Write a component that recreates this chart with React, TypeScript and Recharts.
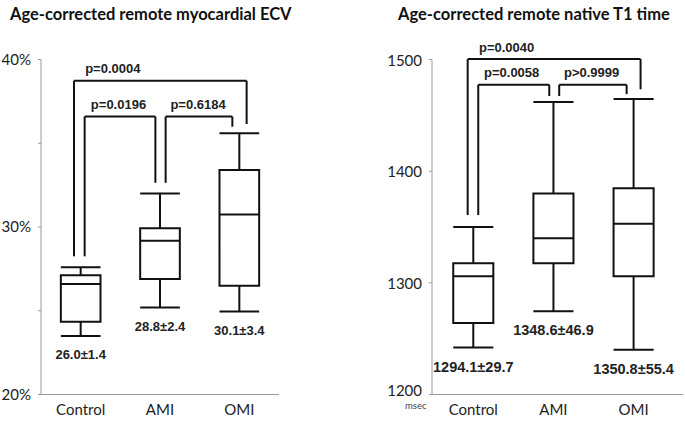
import React from 'react';
import { ComposedChart, XAxis, YAxis, ReferenceArea, ReferenceLine, ReferenceDot } from 'recharts';

const categories = ['Control', 'AMI', 'OMI'];

// Age-corrected remote myocardial ECV (%)
const ecvMin = [23.5, 25.2, 24.95];
const ecvQ1 = [24.35, 26.9, 26.5];
const ecvMedian = [26.6, 29.18, 30.75];
const ecvQ3 = [27.12, 29.92, 33.4];
const ecvMax = [27.6, 32.0, 35.6];
const ecvSummary = ['26.0±1.4', '28.8±2.4', '30.1±3.4'];
const ecvTicks = [20, 25, 30, 35, 40];

// Age-corrected remote native T1 time (msec)
const t1Min = [1242, 1274.5, 1240];
const t1Q1 = [1264, 1317.5, 1306];
const t1Median = [1306, 1340, 1353];
const t1Q3 = [1317.5, 1380, 1384.7];
const t1Max = [1350, 1462, 1464.6];
const t1Summary = ['1294.1±29.7', '1348.6±46.9', '1350.8±55.4'];
const t1Ticks = [1200, 1300, 1400, 1500];

// pairwise comparisons
const ecvPairs = [
  { from: 0, to: 2, label: 'p=0.0004', top: 38.73, fromEnd: 28.25, toEnd: 36.15 },
  { from: 0, to: 1, label: 'p=0.0196', top: 36.59, fromEnd: 28.25, toEnd: 32.64 },
  { from: 1, to: 2, label: 'p=0.6184', top: 36.59, fromEnd: 32.64, toEnd: 35.99 },
];
const t1Pairs = [
  { from: 0, to: 2, label: 'p=0.0040', top: 1500.4, fromEnd: 1360.7, toEnd: 1473.3 },
  { from: 0, to: 1, label: 'p=0.0058', top: 1477.4, fromEnd: 1360.7, toEnd: 1467.3 },
  { from: 1, to: 2, label: 'p>0.9999', top: 1477.4, fromEnd: 1467.3, toEnd: 1469 },
];

// layout (data-unit offsets of bracket legs and labels from category centres)
const ecvLegs = [
  { a: -0.084, b: 0.092, lx: 0.405 },
  { a: 0.05, b: -0.058, lx: 0.477 },
  { a: 0.071, b: -0.088, lx: 1.48 },
];
const t1Legs = [
  { a: -0.07, b: 0.087, lx: 0.416 },
  { a: 0.062, b: -0.052, lx: 0.479 },
  { a: 0.072, b: -0.087, lx: 1.476 },
];

const LINE = '#111';
const AXIS = '#9a9a9a';
const TICK_FONT = 'Lato, "Open Sans", sans-serif';
const BOLD_FONT = '"Liberation Sans", Arial, sans-serif';

const textShape = (text: string, dy: number, size: number) => (props: any) => (
  <text
    x={props.cx}
    y={props.cy + dy}
    textAnchor="middle"
    dominantBaseline="central"
    fontFamily={BOLD_FONT}
    fontWeight="bold"
    fontSize={size}
    fill="#222"
  >
    {text}
  </text>
);

const T1Tick = (props: any) => {
  const v = props.payload?.value;
  const shift = v === t1Ticks[0] ? -5 : 0;
  return (
    <text
      x={props.x}
      y={props.y + shift}
      textAnchor="end"
      dominantBaseline="central"
      fontFamily={TICK_FONT}
      fontSize={15}
      fill="#222"
    >
      {v}
    </text>
  );
};

function renderBoxes(mins: number[], q1: number[], med: number[], q3: number[], maxs: number[], w: number) {
  const out: any[] = [];
  categories.forEach((c, i) => {
    const l = i - w / 2;
    const r = i + w / 2;
    const seg = (x1: number, y1: number, x2: number, y2: number, k: string) => (
      <ReferenceLine
        key={`${c}-${k}`}
        segment={[{ x: x1, y: y1 }, { x: x2, y: y2 }]}
        stroke={LINE}
        strokeWidth={2}
        ifOverflow="visible"
      />
    );
    out.push(seg(i, q3[i], i, maxs[i], 'wt'));
    out.push(seg(i, q1[i], i, mins[i], 'wb'));
    out.push(seg(l, maxs[i], r, maxs[i], 'ct'));
    out.push(seg(l, mins[i], r, mins[i], 'cb'));
    out.push(
      <ReferenceArea
        key={`${c}-box`}
        x1={l}
        x2={r}
        y1={q1[i]}
        y2={q3[i]}
        fill="#fff"
        fillOpacity={1}
        stroke={LINE}
        strokeWidth={2}
        ifOverflow="visible"
      />
    );
    out.push(seg(l, med[i], r, med[i], 'md'));
  });
  return out;
}

function renderBrackets(pairs: any[], legs: any[], labelSize: number) {
  const out: any[] = [];
  pairs.forEach((p, k) => {
    const xa = p.from + legs[k].a;
    const xb = p.to + legs[k].b;
    const seg = (x1: number, y1: number, x2: number, y2: number, s: string) => (
      <ReferenceLine
        key={`br-${k}-${s}`}
        segment={[{ x: x1, y: y1 }, { x: x2, y: y2 }]}
        stroke={LINE}
        strokeWidth={2}
        ifOverflow="visible"
      />
    );
    out.push(seg(xa, p.fromEnd, xa, p.top, 'l'));
    out.push(seg(xa, p.top, xb, p.top, 't'));
    out.push(seg(xb, p.top, xb, p.toEnd, 'r'));
    out.push(
      <ReferenceDot
        key={`br-${k}-txt`}
        x={legs[k].lx}
        y={p.top}
        r={1}
        ifOverflow="visible"
        shape={textShape(p.label, -12, labelSize)}
      />
    );
  });
  return out;
}

function renderSummary(labels: string[], mins: number[], size: number, dy: number) {
  return labels.map((t, i) => (
    <ReferenceDot
      key={`sum-${i}`}
      x={i}
      y={mins[i]}
      r={1}
      ifOverflow="visible"
      shape={textShape(t, dy, size)}
    />
  ));
}

const chartData = categories.map((c, i) => ({ x: i, name: c }));

export default function App() {
  const titleStyle: React.CSSProperties = {
    position: 'absolute',
    top: 4,
    fontFamily: 'Lato, "Open Sans", sans-serif',
    fontWeight: 700,
    fontSize: 16.5,
    color: '#111',
    whiteSpace: 'nowrap',
  };
  return (
    <div style={{ position: 'absolute', left: 0, top: 0, width: 685, height: 426, background: '#fff', overflow: 'hidden' }}>
      <div style={{ ...titleStyle, left: 10 }}>Age-corrected remote myocardial ECV</div>
      <div style={{ ...titleStyle, left: 398 }}>Age-corrected remote native T1 time</div>
      <div style={{ position: 'absolute', left: 405, top: 400, fontFamily: TICK_FONT, fontSize: 9.5, color: '#444' }}>msec</div>

      <div style={{ position: 'absolute', left: 0, top: 0 }}>
        <ComposedChart width={340} height={426} data={chartData} margin={{ top: 59.5, right: 61, bottom: 1.5, left: 0 }}>
          <XAxis
            type="number"
            dataKey="x"
            domain={[-0.5, 2.5]}
            ticks={[0, 1, 2]}
            interval={0}
            allowDataOverflow
            tickFormatter={(v: number) => categories[v] ?? ''}
            stroke={AXIS}
            tickLine={false}
            tickSize={4}
            tickMargin={6}
            height={30}
            tick={{ fill: '#222', fontSize: 15, fontFamily: TICK_FONT }}
          />
          <YAxis
            type="number"
            domain={[20, 40]}
            ticks={ecvTicks}
            interval={0}
            allowDataOverflow
            tickFormatter={(v: number) => (v % 10 === 0 ? `${v}%` : '')}
            stroke={AXIS}
            tickSize={3}
            tickMargin={7}
            width={41}
            tick={{ fill: '#222', fontSize: 15, fontFamily: TICK_FONT }}
          />
          {renderBrackets(ecvPairs, ecvLegs, 13)}
          {renderBoxes(ecvMin, ecvQ1, ecvMedian, ecvQ3, ecvMax, 0.5)}
          {renderSummary(ecvSummary, ecvMin, 13, 19)}
        </ComposedChart>
      </div>

      <div style={{ position: 'absolute', left: 340, top: 0 }}>
        <ComposedChart width={345} height={426} data={chartData} margin={{ top: 59.5, right: 1.7, bottom: 1.5, left: 0 }}>
          <XAxis
            type="number"
            dataKey="x"
            domain={[-0.515, 2.62]}
            ticks={[0, 1, 2]}
            interval={0}
            allowDataOverflow
            tickFormatter={(v: number) => categories[v] ?? ''}
            stroke={AXIS}
            tickLine={false}
            tickSize={4}
            tickMargin={6}
            height={30}
            tick={{ fill: '#222', fontSize: 15, fontFamily: TICK_FONT }}
          />
          <YAxis
            type="number"
            domain={[1200, 1500]}
            ticks={t1Ticks}
            interval={0}
            allowDataOverflow
            stroke={AXIS}
            tickSize={3}
            tickMargin={7}
            width={92}
            tick={T1Tick}
          />
          {renderBrackets(t1Pairs, t1Legs, 13)}
          {renderBoxes(t1Min, t1Q1, t1Median, t1Q3, t1Max, 0.5)}
          {renderSummary(t1Summary, t1Min, 14.5, 19)}
        </ComposedChart>
      </div>
    </div>
  );
}
